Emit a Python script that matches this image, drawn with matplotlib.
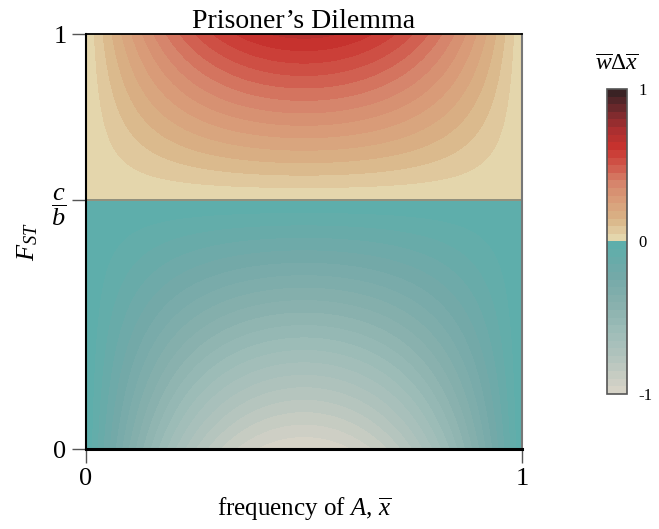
import numpy as np
import matplotlib
matplotlib.use("Agg")
import matplotlib.pyplot as plt
from matplotlib.colors import LinearSegmentedColormap, BoundaryNorm

plt.rcParams['font.family'] = ['Liberation Serif', 'DejaVu Serif']
plt.rcParams['mathtext.fontset'] = 'custom'
plt.rcParams['mathtext.rm'] = 'Liberation Serif'
plt.rcParams['mathtext.it'] = 'Liberation Serif:italic'

# model parameters / grid
cost_benefit = 0.6          # c/b
x_range = [0.0, 1.0]        # frequency of A
f_range = [0.0, 1.0]        # F_ST
n_grid = 300
levels = np.linspace(-1, 1, 41)

# colour anchors
neg_colors = ['#d6d3c7', '#b6c5be', '#9ebdb8', '#87b0ad', '#72a9a8', '#5eaeab']
pos_colors = ['#e4d6ac', '#d9b486', '#d99e7a', '#d6846b', '#d0574a', '#c8322e',
              '#a82f30', '#74292d', '#3a2224']

x = np.linspace(x_range[0], x_range[1], n_grid)
F = np.linspace(f_range[0], f_range[1], n_grid)
X, FF = np.meshgrid(x, F)
Z = X * (1 - X) * (FF - cost_benefit)
Z = Z / np.abs(Z).max()

cmap_neg = LinearSegmentedColormap.from_list('neg', neg_colors)
cmap_pos = LinearSegmentedColormap.from_list('pos', pos_colors)
band_colors = [cmap_neg(i / 19) for i in range(20)] + [cmap_pos(i / 19) for i in range(20)]
cmap = matplotlib.colors.ListedColormap(band_colors)
norm = BoundaryNorm(levels, cmap.N)

fig = plt.figure(figsize=(6.59, 5.29), dpi=100)
ax = fig.add_axes([0.1305, 0.1512, 0.6616, 0.7845])
cs = ax.contourf(X, FF, Z, levels=levels, cmap=cmap, norm=norm)
ax.axhline(cost_benefit, color='#8a8a78', lw=1.3)

ax.set_xlim(0, 1)
ax.set_ylim(0, 1)
ax.set_xticks([0, 1])
ax.set_xticklabels(['0', '1'], fontsize=19)
ax.set_yticks([0, cost_benefit, 1])
ax.set_yticklabels(['0', r'$\dfrac{c}{b}$', '1'], fontsize=19)
ax.tick_params(direction='out', length=10, width=1, color='#555555', pad=4)
ax.set_xlabel(r'frequency of $A$, $\overline{x}$', fontsize=18, labelpad=4)
ax.set_ylabel(r'$F_{ST}$', fontsize=19, labelpad=8)
ax.set_title("Prisoner\u2019s Dilemma", fontsize=20, pad=3)

for side, lw, col in [('left', 1.5, 'black'), ('top', 1.3, 'black'),
                      ('right', 1.5, '#777777'), ('bottom', 2.2, 'black')]:
    ax.spines[side].set_linewidth(lw)
    ax.spines[side].set_color(col)

cax = fig.add_axes([0.921, 0.2552, 0.0303, 0.5766])
cb = fig.colorbar(cs, cax=cax, ticks=[-1, 0, 1])
cb.ax.minorticks_off()
cb.ax.set_yticklabels(['-1', '0', '1'], fontsize=12)
cb.ax.tick_params(length=0, pad=8, which='both')
cb.outline.set_edgecolor('#555555')
cb.outline.set_linewidth(1.2)
cax.set_title(r'$\overline{w}\Delta\overline{x}$', fontsize=17, pad=14)

fig.savefig('out.png', dpi=100)
